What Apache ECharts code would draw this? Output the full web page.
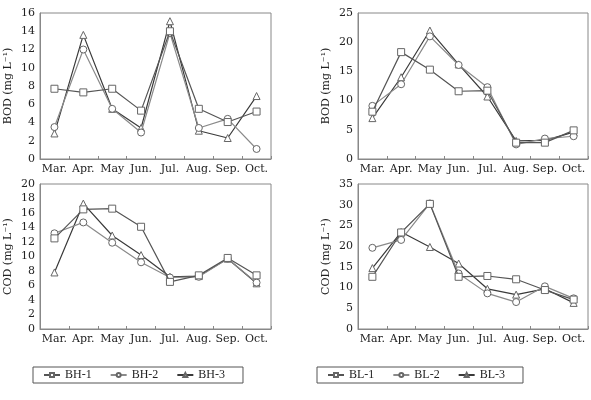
<!DOCTYPE html>
<html>
<head>
<meta charset="utf-8">
<script src="https://cdn.jsdelivr.net/npm/echarts@6/dist/echarts.min.js"></script>
<style>
  html, body { margin: 0; padding: 0; background: #fff; }
  #chart { width: 591px; height: 400px; }
</style>
</head>
<body>
<div id="chart"></div>
<script>
// 月份
var months = ["Mar.", "Apr.", "May", "Jun.", "Jul.", "Aug.", "Sep.", "Oct."];

// BOD - BH
var bodBH1 = [7.7, 7.3, 7.7, 5.3, 14.0, 5.5, 4.05, 5.2];
var bodBH2 = [3.5, 12.0, 5.5, 2.9, 13.8, 3.4, 4.4, 1.1];
var bodBH3 = [2.8, 13.6, 5.5, 3.4, 15.1, 3.1, 2.3, 6.9];

// BOD - BL
var bodBL1 = [8.1, 18.3, 15.3, 11.6, 11.7, 2.8, 2.8, 4.9];
var bodBL2 = [9.1, 12.8, 21.0, 16.1, 12.3, 2.5, 3.5, 3.9];
var bodBL3 = [7.0, 14.0, 22.0, 16.2, 10.7, 3.1, 3.2, 4.6];

// COD - BH
var codBH1 = [12.5, 16.5, 16.6, 14.1, 6.5, 7.4, 9.8, 7.4];
var codBH2 = [13.2, 14.7, 11.9, 9.2, 7.1, 7.2, 9.7, 6.4];
var codBH3 = [7.8, 17.3, 12.9, 10.2, 7.2, 7.3, 9.7, 6.3];

// COD - BL
var codBL1 = [12.6, 23.3, 30.2, 12.6, 12.8, 12.0, 9.4, 7.1];
var codBL2 = [19.6, 21.5, 30.3, 13.4, 8.6, 6.5, 10.3, 7.4];
var codBL3 = [14.7, 23.4, 19.8, 15.8, 9.7, 8.3, 9.7, 6.3];

var namesBH = ["BH-1", "BH-2", "BH-3"];
var namesBL = ["BL-1", "BL-2", "BL-3"];

var myChart = echarts.init(document.getElementById("chart"));

var lineColors = ["#555555", "#8a8a8a", "#3a3a3a"];
var symbols = ["rect", "circle", "triangle"];
var axisFont = "DejaVu Serif";

var grids = [
  { left: 40, top: 13, width: 231, height: 146 },
  { left: 358, top: 13, width: 230, height: 146 },
  { left: 40, top: 184, width: 231, height: 145 },
  { left: 358, top: 184, width: 230, height: 145 }
];

function xAxisFor(idx) {
  return {
    type: "category",
    gridIndex: idx,
    data: months,
    boundaryGap: true,
    axisLine: { lineStyle: { color: "#888", width: 1 } },
    axisTick: { show: true, inside: true, length: 3, lineStyle: { color: "#888" } },
    axisLabel: { color: "#222", fontFamily: axisFont, fontSize: 11, margin: 5, interval: 0 }
  };
}

function yAxisFor(idx, max, interval, name) {
  return {
    type: "value",
    gridIndex: idx,
    min: 0,
    max: max,
    interval: interval,
    name: name,
    nameLocation: "middle",
    nameGap: 26,
    nameRotate: 90,
    nameTextStyle: { color: "#222", fontFamily: axisFont, fontSize: 11 },
    axisLine: { show: true, lineStyle: { color: "#888", width: 1 } },
    axisTick: { show: false },
    splitLine: { show: false },
    axisLabel: { color: "#222", fontFamily: axisFont, fontSize: 11, margin: 5 }
  };
}

var series = [];
function addSeries(idx, names, arrs) {
  for (var i = 0; i < arrs.length; i++) {
    series.push({
      name: names[i],
      type: "line",
      xAxisIndex: idx,
      yAxisIndex: idx,
      data: arrs[i],
      symbol: symbols[i],
      symbolSize: 7,
      lineStyle: { color: lineColors[i], width: 1.2 },
      itemStyle: { color: "#fff", borderColor: "#666", borderWidth: 1 },
      z: 3 - i
    });
  }
}
addSeries(0, namesBH, [bodBH1, bodBH2, bodBH3]);
addSeries(1, namesBL, [bodBL1, bodBL2, bodBL3]);
addSeries(2, namesBH, [codBH1, codBH2, codBH3]);
addSeries(3, namesBL, [codBL1, codBL2, codBL3]);

var legendBase = {
  orient: "horizontal",
  top: 367,
  itemWidth: 16,
  itemHeight: 5,
  itemGap: 18,
  borderColor: "#555",
  borderWidth: 1,
  borderRadius: 0,
  padding: [2, 18, 2, 10],
  textStyle: { fontFamily: "Liberation Serif", fontSize: 12, color: "#222" }
};

var option = {
  backgroundColor: "#fff",
  animation: false,
  grid: grids.map(function (g) {
    return Object.assign({ show: true, borderColor: "#888", borderWidth: 1, containLabel: false }, g);
  }),
  xAxis: [xAxisFor(0), xAxisFor(1), xAxisFor(2), xAxisFor(3)],
  yAxis: [
    yAxisFor(0, 16, 2, "BOD (mg L⁻¹)"),
    yAxisFor(1, 25, 5, "BOD (mg L⁻¹)"),
    yAxisFor(2, 20, 2, "COD (mg L⁻¹)"),
    yAxisFor(3, 35, 5, "COD (mg L⁻¹)")
  ],
  legend: [
    Object.assign({}, legendBase, { left: 33, data: namesBH }),
    Object.assign({}, legendBase, { left: 317, data: namesBL })
  ],
  series: series
};

myChart.setOption(option, true);
</script>
</body>
</html>
